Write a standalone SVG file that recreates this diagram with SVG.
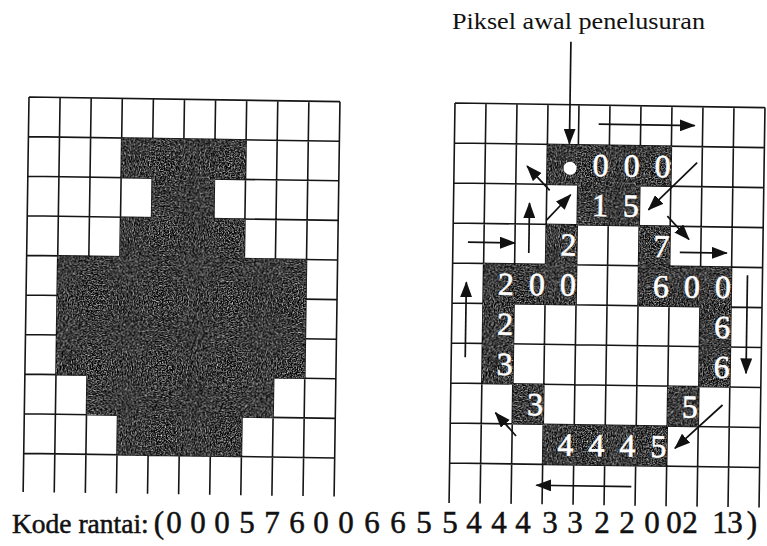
<svg xmlns="http://www.w3.org/2000/svg" width="767" height="546" viewBox="0 0 767 546">
<style>
.gl{stroke:#151515;stroke-width:1.6;fill:none}
.dk{fill:#333}
.dg{font-family:"Liberation Serif","Times New Roman",serif;font-size:32px;fill:#fff;stroke:#fff;stroke-width:0.6;text-anchor:middle}
.ar{stroke:#111;stroke-width:1.7;fill:none;marker-end:url(#ah)}
.tx{font-family:"Liberation Serif","Times New Roman",serif;fill:#111}
.cd text{text-anchor:middle}
</style>
<defs>
<marker id="ah" viewBox="0 0 16 12" refX="15" refY="6" markerWidth="16" markerHeight="12" markerUnits="userSpaceOnUse" orient="auto">
<path d="M0,0 L16,6 L0,12 z" fill="#111"/>
</marker>
<filter id="grain" x="0" y="0" width="1" height="1" color-interpolation-filters="sRGB">
<feTurbulence type="fractalNoise" baseFrequency="0.8" numOctaves="2" seed="4" result="n"/>
<feColorMatrix in="n" type="matrix" values="1 0 0 0 0  1 0 0 0 0  1 0 0 0 0  0 0 0 0 1" result="g"/>
<feComponentTransfer in="g" result="c">
<feFuncR type="linear" slope="1.8" intercept="-0.67"/>
<feFuncG type="linear" slope="1.8" intercept="-0.67"/>
<feFuncB type="linear" slope="1.8" intercept="-0.67"/>
</feComponentTransfer>
<feComposite in="c" in2="SourceAlpha" operator="in"/>
</filter>
</defs>
<rect width="767" height="546" fill="#fff"/>

<g id="left-grid" transform="translate(29,97) rotate(0.85)">
<path class="gl" d="M0,0V395M31.1,0V395M62.2,0V395M93.3,0V395M124.4,0V395M155.5,0V395M186.6,0V395M217.7,0V395M248.8,0V395M279.9,0V395M311,0V395M0,0H311M0,39.6H311M0,79.2H311M0,118.8H311M0,158.4H311M0,198H311M0,237.6H311M0,277.2H311M0,316.8H311M0,356.4H311"/>
<g id="left-shape" class="dk" filter="url(#grain)">
<rect x="93.3" y="39.6" width="124.4" height="39.6"/>
<rect x="124.4" y="79" width="62.2" height="40"/>
<rect x="93.3" y="118.8" width="124.4" height="39.8"/>
<rect x="31.1" y="158.4" width="248.8" height="119"/>
<rect x="62.2" y="277.2" width="186.6" height="39.8"/>
<rect x="93.3" y="316.8" width="124.4" height="39.6"/>
</g>
</g>

<g id="right-grid" transform="translate(455,103) rotate(0.85)">
<path class="gl" d="M0,0V400M31,0V400M62,0V400M93,0V400M124,0V400M155,0V400M186,0V400M217,0V400M248,0V400M279,0V400M310,0V400M0,0H310M0,40H310M0,80H310M0,120H310M0,160H310M0,200H310M0,240H310M0,280H310M0,320H310M0,360H310"/>
<g id="right-shape" class="dk" filter="url(#grain)">
<rect x="93" y="40" width="124" height="40"/>
<rect x="124" y="80" width="62" height="40"/>
<rect x="93" y="120" width="31" height="40"/>
<rect x="186" y="120" width="31" height="40"/>
<rect x="31" y="160" width="93" height="40"/>
<rect x="186" y="160" width="93" height="40"/>
<rect x="31" y="200" width="31" height="80"/>
<rect x="248" y="200" width="31" height="80"/>
<rect x="62" y="280" width="31" height="40"/>
<rect x="217" y="280" width="31" height="40"/>
<rect x="93" y="320" width="124" height="40"/>
</g>
<circle id="start-pixel" cx="116" cy="63.5" r="6.5" fill="#fff"/>
<g id="codes" class="dg">
<text x="146.5" y="71">0</text><text x="177.5" y="71">0</text><text x="208.5" y="71">0</text>
<text x="146.5" y="111">1</text><text x="177.5" y="111">5</text>
<text x="115.5" y="151">2</text><text x="208.5" y="151">7</text>
<text x="53.5" y="191">2</text><text x="84.5" y="191">0</text><text x="115.5" y="191">0</text>
<text x="208.5" y="191">6</text><text x="239.5" y="191">0</text><text x="270.5" y="191">0</text>
<text x="53.5" y="231">2</text><text x="270.5" y="231">6</text>
<text x="53.5" y="271">3</text><text x="270.5" y="271">6</text>
<text x="84.5" y="311">3</text><text x="239.5" y="311">5</text>
<text x="115.5" y="351">4</text><text x="146.5" y="351">4</text><text x="177.5" y="351">4</text><text x="208.5" y="351">5</text>
</g>
</g>

<g id="connectors" transform="translate(455,103) rotate(0.85)">
<line class="ar" x1="115" y1="-63" x2="115" y2="39"/>
<line class="ar" x1="144" y1="19" x2="240" y2="19"/>
<line class="ar" x1="243" y1="56" x2="195" y2="104"/>
<line class="ar" x1="214" y1="110" x2="236" y2="133"/>
<line class="ar" x1="227" y1="146" x2="274" y2="146"/>
<line class="ar" x1="295" y1="168" x2="295" y2="266"/>
<line class="ar" x1="272" y1="298" x2="225" y2="342"/>
<line class="ar" x1="182" y1="381" x2="87" y2="381"/>
<line class="ar" x1="66" y1="332" x2="45" y2="309"/>
<line class="ar" x1="14" y1="254" x2="14" y2="179"/>
<line class="ar" x1="15" y1="139" x2="62" y2="139"/>
<line class="ar" x1="76" y1="149" x2="76" y2="99"/>
<line class="ar" x1="93" y1="116" x2="117" y2="90"/>
<line class="ar" x1="96" y1="86" x2="73" y2="62"/>
</g>

<g id="label-start">
<text class="tx" x="452" y="29" font-size="24" textLength="253" lengthAdjust="spacingAndGlyphs">Piksel awal penelusuran</text>
</g>

<g id="label-chain" class="tx cd" font-size="31" stroke="#111" stroke-width="0.5">
<text x="12" y="533" font-size="27.5" style="text-anchor:start">Kode rantai:</text>
<text x="159" y="533">(</text>
<text x="174" y="533">0</text><text x="198" y="533">0</text><text x="222" y="533">0</text><text x="247" y="533">5</text><text x="272" y="533">7</text><text x="297" y="533">6</text><text x="321" y="533">0</text><text x="346" y="533">0</text><text x="372" y="533">6</text><text x="398" y="533">6</text><text x="424" y="533">5</text><text x="450" y="533">5</text><text x="474" y="533">4</text><text x="499" y="533">4</text><text x="523" y="533">4</text><text x="550" y="533">3</text><text x="575" y="533">3</text><text x="602" y="533">2</text><text x="627" y="533">2</text><text x="652" y="533">0</text><text x="674" y="533">0</text><text x="690" y="533">2</text><text x="720" y="533">1</text><text x="735" y="533">3</text><text x="752" y="533">)</text>
</g>
</svg>
